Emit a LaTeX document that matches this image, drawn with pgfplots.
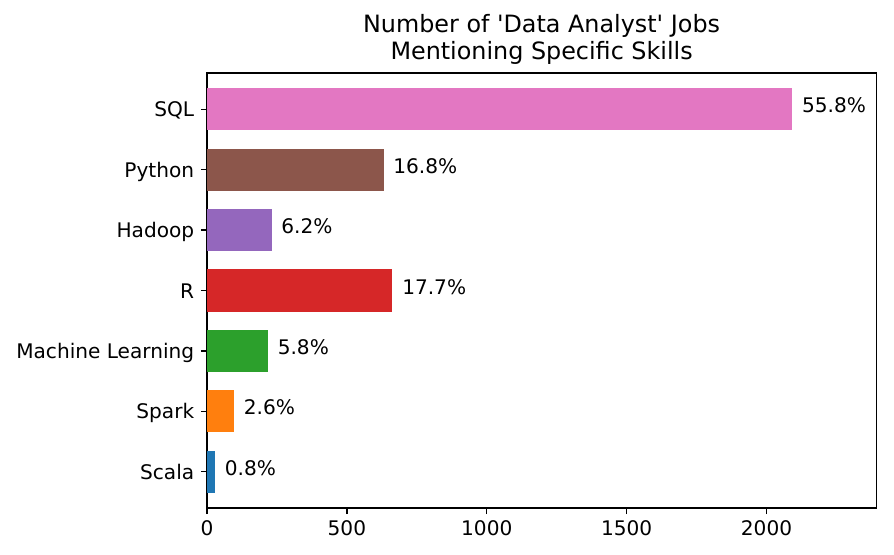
\documentclass[border=0pt]{standalone}
\usepackage{pgfplots}
\pgfplotsset{compat=1.18}
\usepackage{fontspec}
\setmainfont{DejaVu Sans}[Ligatures=TeXOff]
\definecolor{c0}{HTML}{1F77B4}
\definecolor{c1}{HTML}{FF7F0E}
\definecolor{c2}{HTML}{2CA02C}
\definecolor{c3}{HTML}{D62728}
\definecolor{c4}{HTML}{9467BD}
\definecolor{c5}{HTML}{8C564B}
\definecolor{c6}{HTML}{E377C2}
\begin{document}
\fontsize{11.3}{13.5}\selectfont
\begin{tikzpicture}
\useasboundingbox (-116.3pt,-26.4pt) rectangle (386.0pt,285.4pt);
\begin{axis}[
  at={(0,0)}, anchor=south west,
  scale only axis, width=376pt, height=244.4pt,
  xbar, bar width=0.7, bar shift=0pt,
  xmin=0, xmax=2392, ymin=-0.6, ymax=6.6,
  xtick={0,500,1000,1500,2000},
  ytick={0,1,2,3,4,5,6},
  yticklabels={Scala,Spark,Machine Learning,R,Hadoop,Python,SQL},
  tick align=outside, major tick length=3.5pt,
  tick style={black, line width=0.8pt},
  xtick pos=bottom, ytick pos=left,
  axis line style={black, line width=0.8pt},
  /pgf/number format/assume math mode=true,
  /pgf/number format/1000 sep={},
  tick label style={font=\fontsize{11.3}{13.5}\selectfont},
  xticklabel style={inner sep=0pt, yshift=-3.5pt, anchor=north},
  yticklabel style={inner sep=0pt, xshift=-3.5pt, anchor=base east, yshift=-4.3pt},
  title={Number of 'Data Analyst' Jobs\\Mentioning Specific Skills},
  title style={font=\fontsize{13.4}{15.2}\selectfont, align=center, inner sep=0pt, yshift=-1.3pt, anchor=south},
  nodes near coords,
  point meta=explicit symbolic,
  every node near coord/.append style={font=\fontsize{11.3}{13.5}\selectfont, black, inner sep=0pt, anchor=base west, xshift=5.3pt, yshift=-2pt},
]
\addplot[fill=c0, draw=none] coordinates {(29,0) [0.8\%]};
\addplot[fill=c1, draw=none] coordinates {(97,1) [2.6\%]};
\addplot[fill=c2, draw=none] coordinates {(218,2) [5.8\%]};
\addplot[fill=c3, draw=none] coordinates {(663,3) [17.7\%]};
\addplot[fill=c4, draw=none] coordinates {(231,4) [6.2\%]};
\addplot[fill=c5, draw=none] coordinates {(631,5) [16.8\%]};
\addplot[fill=c6, draw=none] coordinates {(2092,6) [55.8\%]};
\end{axis}
\end{tikzpicture}
\end{document}
